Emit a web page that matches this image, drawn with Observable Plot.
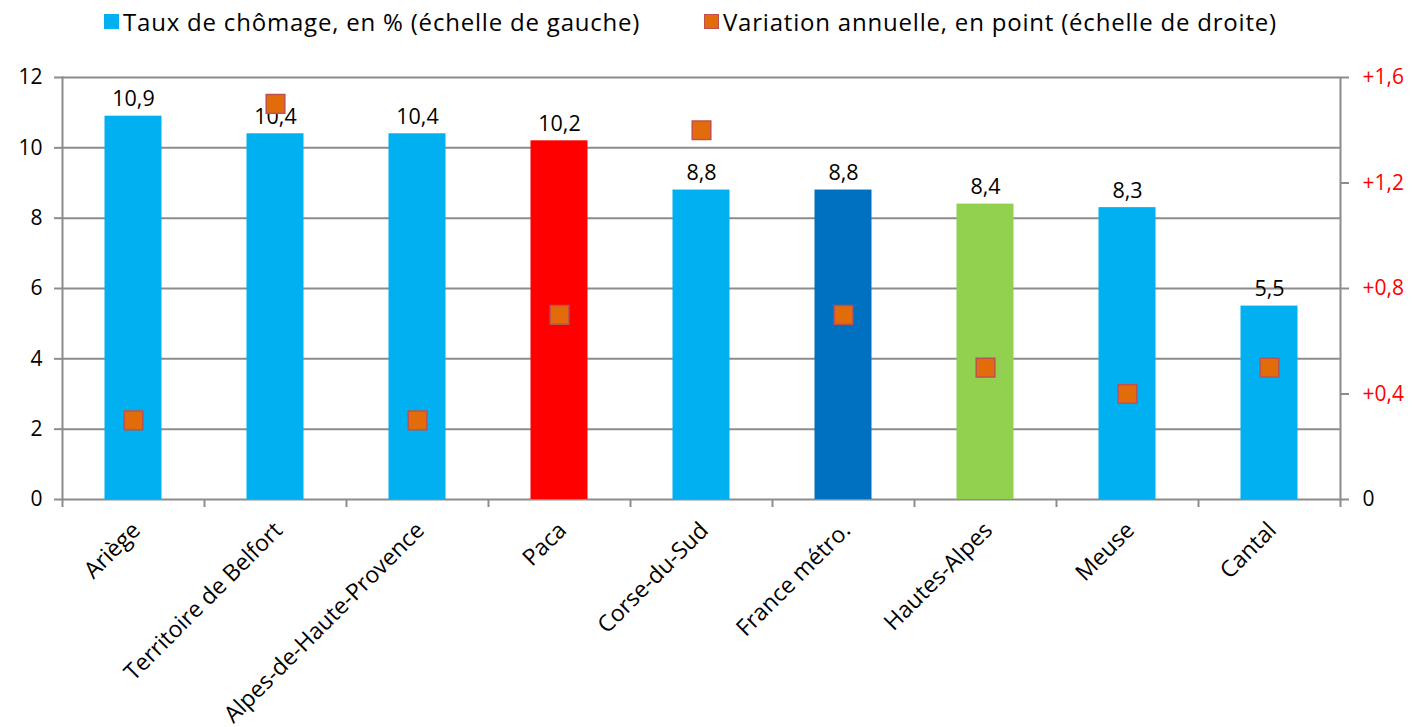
<!DOCTYPE html>
<html>
<head>
<meta charset="utf-8">
<script src="https://cdn.jsdelivr.net/npm/d3@7"></script>
<script src="https://cdn.jsdelivr.net/npm/@observablehq/plot@0.6"></script>
<style>
  body { margin: 0; background: white; font-family: "Open Sans", Lato, sans-serif; }
  #legend { height: 50px; position: relative; font-size: 24px; letter-spacing: 0.8px; color: #000; }
  .item { position: absolute; top: 5px; display: flex; align-items: center; white-space: nowrap; }
  .sw { width: 15px; height: 15px; margin-right: 4px; box-sizing: border-box; }
</style>
</head>
<body>
<div id="legend">
  <div class="item" style="left:104px"><span class="sw" style="background:#00B0F0"></span><span>Taux de chômage, en % (échelle de gauche)</span></div>
  <div class="item" style="left:704px"><span class="sw" style="background:#E36C0A;border:1.5px solid #C0504D"></span><span>Variation annuelle, en point (échelle de droite)</span></div>
</div>
<div id="chart"></div>
<script>
const categories = ["Ariège", "Territoire de Belfort", "Alpes-de-Haute-Provence", "Paca", "Corse-du-Sud", "France métro.", "Hautes-Alpes", "Meuse", "Cantal"];
const taux = [10.9, 10.4, 10.4, 10.2, 8.8, 8.8, 8.4, 8.3, 5.5];
const variation = [0.3, 1.5, 0.3, 0.7, 1.4, 0.7, 0.5, 0.4, 0.5];
const leftTicks = [0, 2, 4, 6, 8, 10, 12];
const rightTicks = [0, 0.4, 0.8, 1.2, 1.6];
const rightTickLabels = ["0", "+0,4", "+0,8", "+1,2", "+1,6"];

// styling
const defaultColor = "#00B0F0";
const highlight = { "Paca": "#FF0000", "France métro.": "#0070C0", "Hautes-Alpes": "#92D050" };
const gridColor = "#8C8C8C";
const font = "'Open Sans', Lato, sans-serif";

const leftMax = 12, rightMax = 1.6;
const k = leftMax / rightMax; // right scale -> left scale

const data = categories.map((c, i) => ({ i, cat: c, taux: taux[i], variation: variation[i], color: highlight[c] || defaultColor }));
const fmt = v => v.toFixed(1).replace(".", ",");

const rightPos = rightTicks.map(v => v * k);
const rightLabel = new Map(rightPos.map((p, i) => [p, rightTickLabels[i]]));

const chart = Plot.plot({
  width: 1412,
  height: 677,
  marginTop: 27,
  marginBottom: 228,
  marginLeft: 62,
  marginRight: 72,
  style: { fontFamily: font, fontSize: "22px", color: "#000", background: "white" },
  x: { domain: [0, categories.length], axis: null },
  y: { domain: [0, leftMax], axis: null },
  color: { type: "identity" },
  marks: [
    Plot.ruleY(leftTicks, { stroke: gridColor, strokeWidth: 2 }),
    Plot.frame({ anchor: "left", stroke: gridColor, strokeWidth: 2 }),
    Plot.frame({ anchor: "right", stroke: gridColor, strokeWidth: 2 }),
    Plot.axisY({ anchor: "left", ticks: leftTicks, tickSize: 8, tickPadding: 12, stroke: gridColor, strokeWidth: 2, fill: "#000", fontSize: 21, tickFormat: d => String(d), label: null }),
    Plot.axisY({ anchor: "right", ticks: rightPos.slice(0, 1), tickSize: 8, tickPadding: 14, stroke: gridColor, strokeWidth: 2, fill: "#000", fontSize: 21, tickFormat: d => rightLabel.get(d), label: null }),
    Plot.axisY({ anchor: "right", ticks: rightPos.slice(1), tickSize: 8, tickPadding: 14, stroke: gridColor, strokeWidth: 2, fill: "#FF0000", fontSize: 21, tickFormat: d => rightLabel.get(d), label: null }),
    Plot.axisX({ ticks: d3.range(categories.length + 1), tickSize: 8, stroke: gridColor, strokeWidth: 2, tickFormat: () => "", label: null }),
    Plot.rectY(data, { x1: d => d.i, x2: d => d.i + 1, y: "taux", fill: "color", insetLeft: 42.5, insetRight: 42.5 }),
    Plot.text(data, { x: d => d.i + 0.5, y: "taux", text: d => fmt(d.taux), lineAnchor: "bottom", dy: -10, fontSize: 21.5, fill: "#000" }),
    Plot.dot(data, { x: d => d.i + 0.5, y: d => d.variation * k, symbol: "square", r: 10.5, fill: "#E36C0A", stroke: "#C0504D", strokeWidth: 1.5 }),
    Plot.text(data, { x: d => d.i + 0.5, frameAnchor: "bottom", text: "cat", rotate: -45, textAnchor: "end", lineAnchor: "middle", dy: 27, dx: 3, fontSize: 23, fill: "#000" })
  ]
});
document.getElementById("chart").appendChild(chart);
</script>
</body>
</html>
